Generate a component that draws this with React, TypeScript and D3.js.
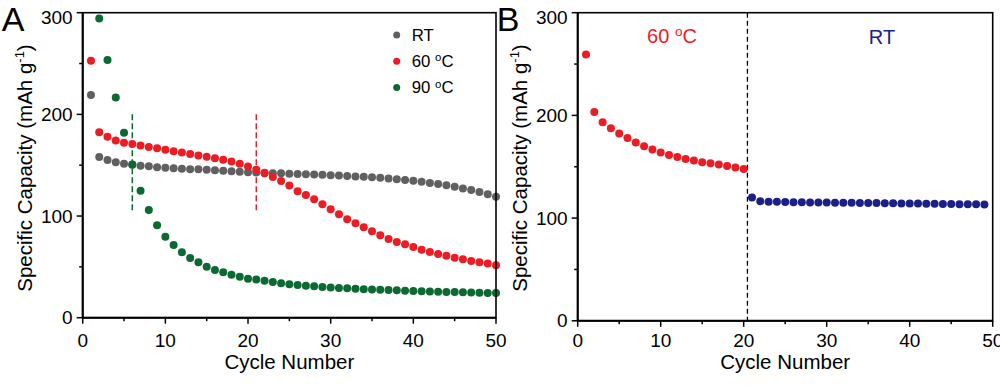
import * as d3 from 'd3';

// panel A: capacity at three temperatures, cycles 1..50 (green starts at cycle 2)
const rtA = [219, 158, 155, 153, 151.5, 150.5, 149.5, 149, 148, 147.5,
  147, 146.5, 146, 146, 145.5, 145, 144.5, 144, 143.5, 143,
  142.8, 142.5, 142.2, 142, 141.7, 141.4, 141.1, 140.8, 140.5, 140.2,
  139.8, 139.4, 139, 138.6, 138.1, 137.6, 137, 136.3, 135.5, 134.6,
  133.6, 132.6, 131.5, 130.2, 128.8, 127.2, 125.5, 123.6, 121.5, 119];
const t60A = [252.7, 182.3, 178, 174.4, 172, 170.8, 169.3, 168, 166.6, 165.2,
  163.8, 162.4, 161, 159.6, 158.2, 156.8, 155.3, 153.7, 151.5, 148.8,
  145.5, 142, 138.5, 134.4, 130, 124.5, 120.6, 116.4, 111.5, 106.6,
  101.7, 96.8, 92.9, 88.9, 85, 81, 77.4, 74.4, 72.2, 69.5,
  66.9, 64.6, 62.6, 61, 59, 57.5, 55.8, 54.5, 53.2, 51.5];
const t90A = [294.4, 253.4, 216.7, 181.9, 150.8, 124.8, 105.9, 90.9, 79.7,
  71.5, 64.3, 58.7, 54.5, 50.2, 46.9, 44.6, 42.3, 40.3, 38.3,
  37.5, 36.3, 35, 34, 33, 32.2, 31.5, 30.9, 30.3, 29.8,
  29.3, 28.9, 28.5, 28.1, 27.8, 27.5, 27.2, 26.9, 26.6, 26.3,
  26, 25.8, 25.6, 25.4, 25.2, 25, 24.8, 24.6, 24.4, 24.2];
const t90Start = 2;
const markersA = [6, 21]; // dashed guide lines (cycle)
const markerRange = [105, 200];

// panel B: 60 °C for cycles 1..20, then RT for 21..49
const t60B = [259.2, 203.3, 193.3, 187.4, 182.3, 178, 173.5, 169.9, 166.7, 163.8,
  161.5, 159.5, 157.6, 156, 154.3, 153.4, 152.1, 150.7, 149.2, 147.8];
const rtB = [120, 116.5, 116, 115.8, 115.6, 115.5, 115.4, 115.3, 115.2, 115.1,
  115, 115, 114.9, 114.8, 114.7, 114.6, 114.5, 114.4, 114.3, 114.2,
  114.1, 114, 113.9, 113.8, 113.7, 113.6, 113.5, 113.4, 113.3];
const rtBStart = 21;
const switchB = 20.45;

const xTicks = [0, 10, 20, 30, 40, 50];
const xMinor = [5, 15, 25, 35, 45];
const yTicks = [0, 100, 200, 300];
const yMinor = [50, 150, 250];

const GRAY = '#606060';
const RED = '#ec1c24';
const GREEN = '#0b6a32';
const NAVY = '#1b2088';
const FONT = "Arial, 'Liberation Sans', sans-serif";

type Scale = d3.ScaleLinear<number, number>;

function Axes({ x, y, label }: { x: Scale; y: Scale; label: string }) {
  const [x0, x1] = x.range();
  const [y0, y1] = y.range();
  return (
    <g fontFamily={FONT} fill="#000">
      <rect x={x0} y={y1} width={x1 - x0} height={y0 - y1} fill="none" stroke="#000" strokeWidth={1.6} />
      <line x1={x0} x2={x1} y1={y0} y2={y0} stroke="#000" strokeWidth={2} />
      <line x1={x0} x2={x0} y1={y0} y2={y1} stroke="#000" strokeWidth={2} />
      {xTicks.map(t => (
        <g key={'x' + t}>
          <line x1={x(t)} x2={x(t)} y1={y0} y2={y0 + 6} stroke="#000" strokeWidth={1.5} />
          <text x={x(t)} y={347} textAnchor="middle" fontSize={19}>{t}</text>
        </g>
      ))}
      {xMinor.map(t => (
        <line key={'xm' + t} x1={x(t)} x2={x(t)} y1={y0} y2={y0 + 3.5} stroke="#000" strokeWidth={1.5} />
      ))}
      {yTicks.map(t => (
        <g key={'y' + t}>
          <line x1={x0 - 6} x2={x0} y1={y(t)} y2={y(t)} stroke="#000" strokeWidth={1.5} />
          <text x={x0 - 10} y={t === 300 ? 24 : y(t) + 6.5} textAnchor="end" fontSize={19}>{t}</text>
        </g>
      ))}
      {yMinor.map(t => (
        <line key={'ym' + t} x1={x0 - 3.5} x2={x0} y1={y(t)} y2={y(t)} stroke="#000" strokeWidth={1.5} />
      ))}
      <text x={(x0 + x1) / 2} y={369} textAnchor="middle" fontSize={20.5}>Cycle Number</text>
      <text transform={`translate(${x0 - 51},168) rotate(-90)`} textAnchor="middle" fontSize={20.5}>
        Specific Capacity (mAh g<tspan dy={-8} fontSize={13}>-1</tspan><tspan dy={8}>)</tspan>
      </text>
      <text x={x0 - 81} y={31} fontSize={34}>{label}</text>
    </g>
  );
}

function Dots({ x, y, values, start, color }: { x: Scale; y: Scale; values: number[]; start: number; color: string }) {
  return (
    <g fill={color}>
      {values.map((v, i) => (
        <circle key={i} cx={x(start + i)} cy={y(v)} r={4} />
      ))}
    </g>
  );
}

function Deg({ n, size }: { n: string; size: number }) {
  return (
    <>
      {n + ' '}<tspan dy={-size * 0.35} fontSize={size * 0.68}>o</tspan><tspan dy={size * 0.35}>C</tspan>
    </>
  );
}

export default function App() {
  const xA = d3.scaleLinear().domain([0, 50]).range([82.7, 496]);
  const yA = d3.scaleLinear().domain([0, 300]).range([317.7, 12.7]);
  const xB = d3.scaleLinear().domain([0, 50]).range([577.7, 992.7]);
  const yB = d3.scaleLinear().domain([0, 300]).range([320.8, 12.7]);

  const legend = [
    { name: 'RT', color: GRAY },
    { name: '60', color: RED },
    { name: '90', color: GREEN },
  ];

  return (
    <svg width={1000} height={392} style={{ position: 'absolute', left: 0, top: 0 }}>
      <rect width={1000} height={392} fill="#fff" />
      {/* panel A */}
      {markersA.map((m, i) => (
        <line key={m} x1={xA(m)} x2={xA(m)} y1={yA(markerRange[1])} y2={yA(markerRange[0])}
          stroke={i === 0 ? GREEN : RED} strokeWidth={1.5} strokeDasharray="6,3" />
      ))}
      <Dots x={xA} y={yA} values={rtA} start={1} color={GRAY} />
      <Dots x={xA} y={yA} values={t60A} start={1} color={RED} />
      <Dots x={xA} y={yA} values={t90A} start={t90Start} color={GREEN} />
      <Axes x={xA} y={yA} label="A" />
      <g fontFamily={FONT} fontSize={16.8}>
        {legend.map((d, i) => (
          <g key={d.name} transform={`translate(396.7,${35 + i * 26.2})`}>
            <circle r={3.5} fill={d.color} />
            <text x={15} y={6}>{d.name === 'RT' ? 'RT' : <Deg n={d.name} size={16.8} />}</text>
          </g>
        ))}
      </g>

      {/* panel B */}
      <line x1={xB(switchB)} x2={xB(switchB)} y1={yB(300)} y2={yB(0)} stroke="#000" strokeWidth={1.3} strokeDasharray="5,3" />
      <Dots x={xB} y={yB} values={t60B} start={1} color={RED} />
      <Dots x={xB} y={yB} values={rtB} start={rtBStart} color={NAVY} />
      <Axes x={xB} y={yB} label="B" />
      <g fontFamily={FONT} fontSize={20}>
        <text x={672} y={42.5} textAnchor="middle" fill={RED}><Deg n="60" size={20} /></text>
        <text x={882} y={43.5} textAnchor="middle" fill={NAVY}>RT</text>
      </g>
    </svg>
  );
}
